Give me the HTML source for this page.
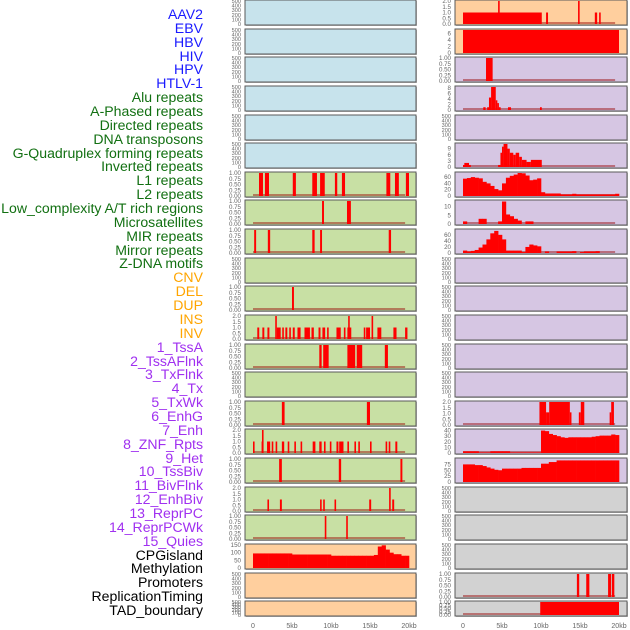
<!DOCTYPE html>
<html><head><meta charset="utf-8"><style>
html,body{margin:0;padding:0;background:#fff;width:630px;height:630px;overflow:hidden;}
#labels div{position:absolute;right:427px;font:14.1px "Liberation Sans",sans-serif;white-space:nowrap;line-height:14px;}
svg{position:absolute;left:0;top:0;}
</style></head><body>
<div id="labels"></div>
<svg id="chart" width="630" height="630"></svg>
<script>
const trackNames = ["AAV2","EBV","HBV","HIV","HPV","HTLV-1","Alu repeats","A-Phased repeats","Directed repeats","DNA transposons","G-Quadruplex forming repeats","Inverted repeats","L1 repeats","L2 repeats","Low_complexity A/T rich regions","Microsatellites","MIR repeats","Mirror repeats","Z-DNA motifs","CNV","DEL","DUP","INS","INV","1_TssA","2_TssAFlnk","3_TxFlnk","4_Tx","5_TxWk","6_EnhG","7_Enh","8_ZNF_Rpts","9_Het","10_TssBiv","11_BivFlnk","12_EnhBiv","13_ReprPC","14_ReprPCWk","15_Quies","CPGisland","Methylation","Promoters","ReplicationTiming","TAD_boundary"];
const trackGroups = [6,13,5,15,5];
const groupColors = ["#1a1aff","#127012","#ffa500","#a030f0","#000000"];
const xTicks = [0,5,10,15,20];
const xTickLabels = ["0","5kb","10kb","15kb","20kb"];
// panel backgrounds
const leftBg = ["b","b","b","b","b","b","g","g","g","g","g","g","g","g","g","g","g","g","g","o","o","o"];
const rightBg = ["o","o","p","p","p","p","p","p","p","p","p","p","p","p","p","p","p","k","k","k","k","k"];
// y maxima
const leftMax = [500,500,500,500,500,500,1,1,1,500,1,2,1,500,1,2,1,2,1,150,500,500];
const rightMax = [2,7,1,8.3,500,11.3,73,13.3,76,500,500,500,500,500,2,41,98,500,500,500,1,1];
// bar data: [startKb, endKb, value]
const leftBars = {
 6:[[0.77,1.28,1],[1.53,2.05,1],[5.1,5.5,1],[7.6,8.2,1],[8.6,9.2,1],[10.5,10.8,1],[11.4,11.8,1],[17.1,17.6,1],[18.2,18.7,1],[19.6,20,1]],
 7:[[8.85,9.1,1],[12.05,12.55,1]],
 8:[[0.15,0.4,1],[1.9,2.2,1],[7.6,7.9,1],[8.6,8.85,1],[17.4,17.7,1]],
 10:[[5.0,5.25,1]],
 11:[[0.55,0.8,1],[1.2,1.45,1],[1.85,2.1,1],[2.85,3.05,2],[3.05,3.55,1],[3.75,3.95,1],[4.15,4.4,1],[4.65,4.85,1],[5.1,5.35,1],[5.7,6.1,1],[6.6,7.3,1],[7.5,7.8,1],[8.4,8.65,1],[8.9,9.25,1],[9.5,9.7,1],[10.7,11.25,1],[11.65,11.85,1],[12.1,12.6,1],[12.2,12.4,2],[14.2,14.4,1],[14.5,15,1],[15.2,15.35,2],[15.95,16.45,1],[18,18.4,1],[19.5,19.8,1]],
 12:[[8.5,8.8,1],[9.0,9.7,1],[12.1,13.1,1],[13.3,14.0,1],[16.9,17.3,1]],
 14:[[3.7,4.05,1],[14.6,15.0,1]],
 15:[[0,0.2,1],[1.1,1.3,1],[1.15,1.25,2],[1.8,2.2,1],[2.4,2.6,1],[2.9,3.1,1],[3.7,4.0,1],[4.45,4.65,1],[5.3,5.5,1],[6.1,6.3,1],[7.65,8.0,1],[8.5,8.8,1],[9.1,9.3,1],[9.85,10.05,1],[10.7,10.95,1],[11.05,11.6,1],[12.1,12.3,1],[13.0,13.2,1],[13.5,13.7,1],[15.0,15.2,1],[17.0,17.2,1],[17.4,17.6,1],[18.25,18.5,1]],
 16:[[3.35,3.7,1],[11.0,11.3,1],[18.9,19.15,1]],
 17:[[1.85,2.05,1],[3.45,3.7,1],[8.6,8.8,1],[9.0,9.15,1],[10.45,10.6,1],[14.9,15.15,1],[17.45,17.65,2],[17.85,18.1,1]],
 18:[[9.2,9.4,1],[11.95,12.15,1]]
};
const rightBars = {
 0:[[0,10.1,1],[4.5,4.7,2],[10.65,10.9,1],[14.75,14.95,2],[16.9,17.2,1],[17.45,17.65,1]],
 1:[[0,20,7]],
 2:[[2.95,3.8,1]],
 3:[[2.6,2.9,1],[3.1,3.33,1],[3.33,3.6,4.5],[3.6,4.2,8.3],[4.2,4.4,3.5],[4.4,4.6,2.5],[4.6,4.83,1],[5.77,6.15,1],[9.87,10.1,1]],
 5:[[0,0.17,1],[0.17,0.77,2],[0.77,1,1],[4.5,4.8,1],[4.8,5,7],[5,5.2,10],[5.2,5.7,11.3],[5.7,6,9],[6,6.45,7],[6.45,6.75,6],[6.75,7.2,7],[7.2,7.55,5],[7.55,8.15,3.5],[8.15,8.7,2.5],[8.7,10.1,3.5]],
 14:[[9.8,10.65,2],[10.65,11.05,1.1],[11.05,13.7,2],[13.7,13.85,1.1],[14.85,15.1,1.1],[15.1,15.55,2],[18.8,19.0,1.1],[19.0,19.35,2]],
 20:[[14.6,14.9,1],[15.8,16.2,1],[18.6,19,1],[19.1,19.4,1]],
 21:[[9.9,20,1]]
};
// histogram data: 40 bins of 0.5 kb
const cpgBins = [95,95,95,95,95,95,95,95,95,95,88,88,88,88,88,88,88,88,88,88,80,80,80,80,80,80,80,80,80,80,80,85,140,148,120,100,90,90,80,80];
const rightL1Bins = [55,57,60,58,56,45,40,32,22,18,40,58,64,68,73,72,65,50,52,56,12,8,8,8,8,5,5,5,7,5,5,5,5,5,5,5,5,5,5,7];
const rightL2Bins = [1.5,0,0,0,3,3,0,0,0,1.5,13,5.5,4.5,3,2,0,1.5,1.5,0,0,0,0,0,0,0,0,0,0,0,0,0,0,0,0,0,0,0,0,0,0];
const rightMIRBins = [8,5,7,10,18,28,45,65,73,60,45,8,8,8,8,3,20,28,25,22,0,5,0,0,5,5,5,5,6,0,3,5,5,5,6,0,0,0,0,0];
const rightEnhBins = [3,3,3,3,1,1,1,3,3,3,3,3,1,1,1,1,1,1,1,1,40,39,34,32,30,28,27,28,28,28,28,28,28,29,30,31,31,31,33,32];
const rightHetBins = [75,75,75,72,72,68,62,57,52,50,57,57,57,57,57,60,60,60,60,60,78,78,85,85,92,92,92,92,92,92,92,92,92,92,92,92,92,92,92,92];
const leftHist = {19:cpgBins};
const rightHist = {6:rightL1Bins,7:rightL2Bins,8:rightMIRBins,15:rightEnhBins,16:rightHetBins};
const tickSets = {
 500:["0","100","200","300","400","500"], 1:["0.00","0.25","0.50","0.75","1.00"], 2:["0.0","0.5","1.0","1.5","2.0"],
 150:["0","50","100","150"], 7:["0","2","4","6"], 8.3:["0","2","4","6","8"], 11.3:["0","3","6","9"],
 73:["0","20","40","60"], 13.3:["0","5","10"], 76:["0","20","40","60"], 41:["0","10","20","30","40"], 98:["0","25","50","75"]
};
const bgColors = {b:"#c7e3ec",g:"#c8e0a4",o:"#ffcf9e",p:"#d6c6e3",k:"#d2d2d2"};
</script>
<script>
const NS="http://www.w3.org/2000/svg";
const svg=document.getElementById('chart');
function mk(tag,attrs,parent){const e=document.createElementNS(NS,tag);for(const k in attrs)e.setAttribute(k,attrs[k]);(parent||svg).appendChild(e);return e;}
const lab=document.getElementById('labels');
let gi=0,cnt=0;
trackNames.forEach((n,k)=>{
  while(cnt>=trackGroups[gi]){cnt=0;gi++;}
  cnt++;
  const d=document.createElement('div');
  
  
  d.textContent=n;d.style.color=groupColors[gi];
  d.style.top=(14+13.86*k-7)+'px';
  lab.appendChild(d);
});
const cols=[{x0:245,x1:416,z:253,bg:leftBg,max:leftMax,bars:leftBars,hist:leftHist,name:'left'},
            {x0:455,x1:627,z:463,bg:rightBg,max:rightMax,bars:rightBars,hist:rightHist,name:'right'}];
const pxPerKb=7.8;
cols.forEach(c=>{
  const xs=kb=>c.z+kb*pxPerKb;
  for(let i=0;i<22;i++){
    const top=Math.round(i*28.63), h=(i==21?15:25);
    const g=mk('g',{});
    
    
    mk('rect',{x:c.x0+1,y:top+1,width:c.x1-c.x0,height:h,fill:'#bbb'},g);
    mk('rect',{x:c.x0,y:top,width:c.x1-c.x0,height:h,fill:bgColors[c.bg[i]],stroke:'#5a5a5a','stroke-width':1},g);
    const ymax=c.max[i], yb=top+h-1, yt=top+1;
    const ys=v=>yb-(v/ymax)*(yb-yt);
    const ticks=tickSets[ymax]||[];
    ticks.forEach(t=>{
      const tx=mk('text',{x:c.x0-4,y:ys(parseFloat(t))+2,'text-anchor':'end','font-size':(ymax==500?5.6:6.2),fill:'#666','font-family':'Liberation Sans, sans-serif'},g);
      
      
      tx.textContent=t;
    });
    const bars=c.bars[i], hist=c.hist[i];
    if(bars||hist){
      const bl=mk('line',{x1:xs(0),x2:xs(19.5),y1:yb-1,y2:yb-1,stroke:'rgba(150,0,0,0.45)','stroke-width':2},g);
      
      
    }
    if(bars){bars.forEach(b=>{
      const w=Math.max(1.6,xs(b[1])-xs(b[0]));
      const r=mk('rect',{x:xs(b[0]),y:ys(b[2]),width:w,height:yb-ys(b[2]),fill:'#ff0000'},g);
      
      
    });}
    if(hist){hist.forEach((v,k)=>{
      if(v<=0)return;
      const r=mk('rect',{x:xs(k*0.5),y:ys(v),width:xs(0.5)-xs(0)+0.3,height:yb-ys(v),fill:'#ff0000'},g);
      
      
    });}
  }
  xTicks.forEach((t,k)=>{
    const tx=mk('text',{x:xs(t),y:628,'text-anchor':'middle','font-size':7,fill:'#666','font-family':'Liberation Sans, sans-serif'});
    
    
    tx.textContent=xTickLabels[k];
  });
});
</script>
</body></html>
